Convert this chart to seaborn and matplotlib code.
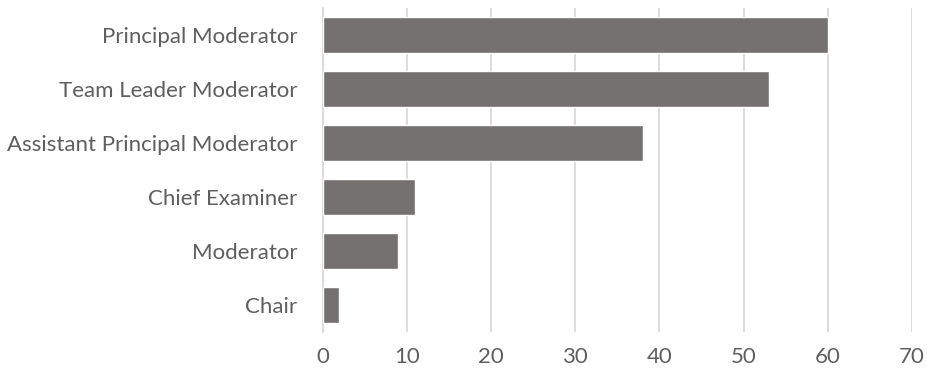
import matplotlib
matplotlib.use("Agg")
import matplotlib.pyplot as plt
import seaborn as sns
import pandas as pd

roles = ["Principal Moderator", "Team Leader Moderator", "Assistant Principal Moderator",
         "Chief Examiner", "Moderator", "Chair"]
counts = [60, 53, 38, 11, 9, 2]
x_ticks = [0, 10, 20, 30, 40, 50, 60, 70]

sns.set_theme(style="white")
plt.rcParams["font.family"] = ["Lato", "DejaVu Sans"]

df = pd.DataFrame({"role": roles, "count": counts})

fig = plt.figure(figsize=(9.27, 3.78), dpi=100)
ax = fig.add_axes([0.348, 0.122, 0.636, 0.857])

sns.barplot(data=df, y="role", x="count", orient="h", color="#767171",
            saturation=1, width=0.67, ax=ax, zorder=3)

ax.set_xlim(0, 70)
ax.set_xticks(x_ticks)
ax.set_xticklabels([str(t) for t in x_ticks])
ax.xaxis.grid(True, color="#d9d9d9", linewidth=1.3, zorder=0)
ax.yaxis.grid(False)
ax.set_axisbelow(True)
ax.set_xlabel("")
ax.set_ylabel("")
for side in ["top", "right", "bottom"]:
    ax.spines[side].set_visible(False)
ax.spines["left"].set_color("#d9d9d9")
ax.spines["left"].set_linewidth(1.3)
ax.tick_params(axis="both", length=0, labelsize=16, colors="#5f5f5f")
ax.tick_params(axis="y", pad=18)
ax.tick_params(axis="x", pad=11)

fig.savefig("out.png", dpi=100)
